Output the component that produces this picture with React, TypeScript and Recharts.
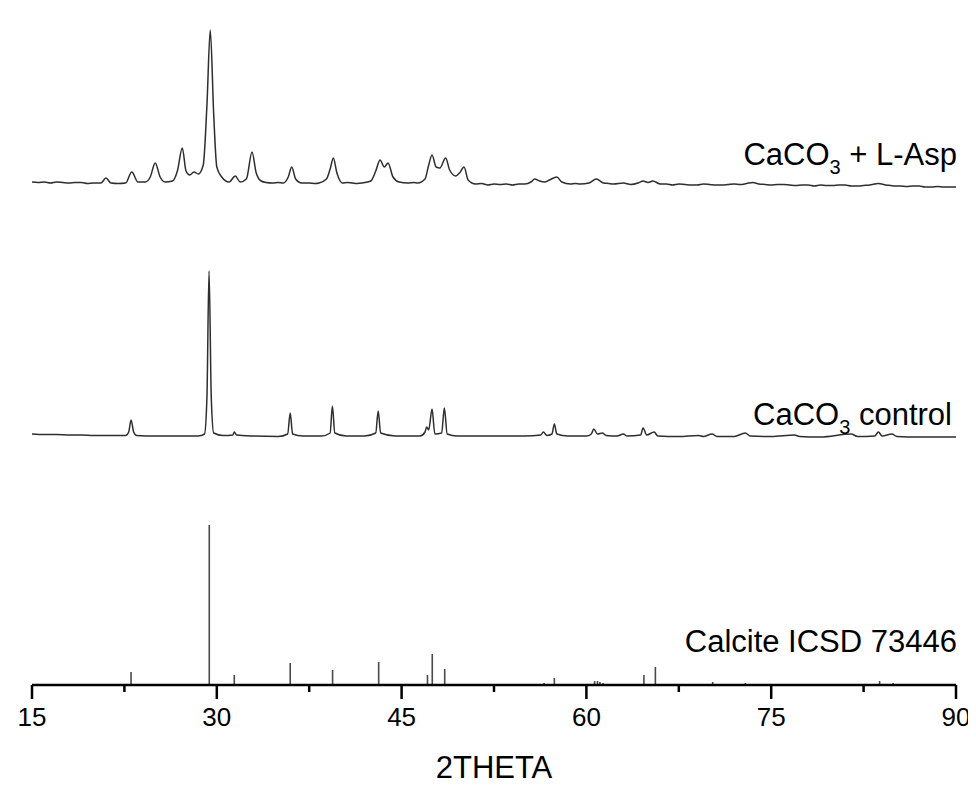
import React from 'react';
import { ComposedChart, Line, Bar, XAxis, YAxis } from 'recharts';

// 2-theta tick values (major labelled, minor unlabelled)
const X_TICKS = [15, 22.5, 30, 37.5, 45, 52.5, 60, 67.5, 75, 82.5, 90];
const MAJOR_TICKS = [15, 30, 45, 60, 75, 90];

// Series names
const SERIES_ASP = 'CaCO3 + L-Asp';
const SERIES_CONTROL = 'CaCO3 control';
const SERIES_CALCITE = 'Calcite ICSD 73446';

// Vertical stacking offsets (a.u.) used to separate the patterns
const ASP_OFFSET = 500;
const CONTROL_OFFSET = 248;

// CaCO3 + L-Asp pattern: [2theta, intensity a.u.]
const aspPattern: [number, number][] = [
  [15.0, 3], [15.5, 2.5], [16.0, 3], [16.5, 2], [17.0, 3], [17.5, 2.5], [18.0, 2], [18.5, 2.5], [19.0, 2.5],
  [19.5, 1.5], [20.0, 2], [20.6, 2], [21.0, 7], [21.4, 2], [22.0, 1.5], [22.6, 2], [23.1, 13], [23.6, 3],
  [24.2, 3], [24.6, 8], [25.0, 22], [25.4, 8], [25.8, 3], [26.4, 4], [26.8, 14], [27.2, 37], [27.5, 14],
  [27.8, 10], [28.15, 13], [28.5, 11], [28.9, 20], [29.2, 80], [29.47, 155], [29.75, 70], [30.0, 18],
  [30.4, 8], [31.0, 3], [31.5, 9], [31.9, 3], [32.4, 6], [32.86, 33], [33.2, 12], [33.6, 4], [34.0, 2.5],
  [34.5, 2], [35.0, 2.5], [35.4, 2], [35.8, 8], [36.08, 18], [36.4, 6], [36.9, 2], [37.5, 2], [38.0, 1.5],
  [38.3, 2], [38.9, 6], [39.2, 16], [39.46, 27], [39.75, 12], [40.2, 2], [40.6, 2.5], [41.0, 2], [41.4, 1.5],
  [41.8, 2], [42.5, 4], [42.9, 14], [43.25, 25], [43.6, 18], [43.9, 22], [44.3, 8], [44.8, 3], [45.5, 2],
  [46.0, 2.5], [46.3, 2], [46.9, 6], [47.2, 20], [47.47, 30], [47.8, 18], [48.1, 17], [48.58, 27], [48.9, 15],
  [49.4, 9], [49.7, 12], [50.07, 18], [50.4, 5], [51.0, 1], [51.5, 1.5], [52.0, 0], [52.5, 1], [53.0, 0.5],
  [53.5, 1], [54.0, 0], [54.5, 1], [55.0, 1], [55.5, 3], [55.8, 6], [56.2, 4], [56.6, 3], [57.0, 5],
  [57.6, 8], [58.0, 3], [58.7, 1], [59.1, 1.5], [59.5, 1], [60.2, 2], [60.8, 6], [61.4, 2], [61.8, 1.5],
  [62.2, 1], [63.0, 2], [63.6, 0.5], [64.2, 2], [64.6, 4], [65.0, 2.5], [65.4, 4], [66.0, 1], [66.5, 1],
  [67.0, 0], [67.5, 1], [68.0, 0.5], [68.5, 0], [69.0, 0], [69.5, 1], [70.0, 0.5], [70.5, 0], [71.0, 0],
  [71.5, 0.5], [72.0, 1], [72.5, 0.5], [73.0, 1.5], [73.5, 2.5], [74.0, 1], [74.5, 0.5], [75.0, 0],
  [75.5, 0.5], [76.0, 0.5], [76.5, 0], [77.0, -0.5], [77.5, 0], [78.0, 0], [78.5, -1], [79.0, 0], [79.5, -0.5],
  [80.0, -0.5], [80.5, 0], [81.0, 0], [81.5, -1], [82.0, -1], [82.5, -0.5], [83.0, 0], [83.7, 1.5], [84.3, 0],
  [84.7, -0.5], [85.0, -1], [85.5, -1], [86.0, -1.5], [86.5, -1], [87.0, -1], [87.5, -2], [88.0, -2],
  [88.5, -1.5], [89.0, -2], [89.5, -2], [90.0, -2],
];

// CaCO3 control pattern: [2theta, intensity a.u.]
const controlPattern: [number, number][] = [
  [15.0, 3], [16.0, 2.5], [17.0, 2.5], [18.0, 2], [19.0, 2], [20.0, 1.5], [21.0, 1.5], [22.0, 1.5], [22.6, 1.5],
  [22.85, 5], [23.04, 17], [23.25, 5], [23.5, 1.5], [25.0, 1], [27.0, 1], [28.5, 1], [29.0, 3], [29.2, 40],
  [29.37, 166], [29.55, 40], [29.75, 4], [30.5, 1.5], [31.3, 2], [31.42, 5], [31.6, 2], [33.0, 1], [35.0, 0.5],
  [35.75, 3], [35.96, 24], [36.15, 3], [37.0, 1], [38.5, 1], [39.2, 4], [39.38, 31], [39.58, 4], [40.5, 1],
  [42.0, 1], [42.9, 4], [43.1, 26], [43.3, 4], [44.5, 1], [46.5, 1], [46.9, 5], [47.04, 10], [47.2, 7],
  [47.47, 28], [47.7, 3], [48.25, 4], [48.47, 29], [48.7, 3], [49.5, 1], [52.0, 1], [55.0, 1], [56.3, 2],
  [56.5, 5], [56.8, 1.5], [57.2, 3], [57.4, 13], [57.6, 3], [58.5, 1], [60.0, 1], [60.4, 3], [60.6, 8],
  [60.9, 3], [61.3, 4], [61.6, 1.5], [62.5, 1], [63.0, 3], [63.3, 1], [64.4, 2], [64.6, 9], [64.9, 2],
  [65.5, 5], [65.8, 1], [67.5, 0.5], [69.1, 1.5], [69.5, 0.5], [70.2, 3], [70.6, 0.5], [72.0, 0.5], [72.9, 4],
  [73.3, 1], [75.0, 0.5], [76.9, 2], [77.3, 0.5], [79.0, 0], [81.5, 3], [82.0, 0.5], [83.4, 1], [83.7, 5],
  [84.0, 1], [84.8, 3], [85.2, 0.5], [87.0, 0], [90.0, 0],
];

// Calcite reference (ICSD 73446) stick positions and intensities
const calcitePositions = [
  23.04, 29.39, 31.42, 35.96, 39.4, 43.14, 47.1, 47.49, 48.5, 56.57, 57.4, 58.0, 60.67, 60.9, 61.1, 61.35,
  63.05, 64.67, 65.6, 69.2, 70.25, 72.9, 77.0, 81.5, 83.8, 84.9,
];
const calciteIntensities = [
  13, 160, 10, 22, 15, 23, 10, 31, 16, 2, 7, 1, 4, 4, 3, 2, 1, 10, 18, 1, 3, 2, 1, 1, 4, 2,
];

const aspData = aspPattern.map(([x, y]) => ({ x, y: y + ASP_OFFSET }));
const controlData = controlPattern.map(([x, y]) => ({ x, y: y + CONTROL_OFFSET }));
const calciteData = calcitePositions.map((x, i) => ({ x, h: calciteIntensities[i] }));

const FONT = '"Liberation Sans", Arial, Helvetica, sans-serif';
const TICK_SIZE = 14;
const TICK_MARGIN = 9;

function AxisTick(props: any) {
  const { x, y, payload } = props;
  const v = payload.value;
  const major = MAJOR_TICKS.includes(v);
  const axisY = y - TICK_SIZE - TICK_MARGIN;
  return (
    <g>
      <line x1={x} x2={x} y1={axisY} y2={axisY + (major ? TICK_SIZE : 7)} stroke="#000" strokeWidth={2.5} />
      {major && (
        <text x={x} y={y} dy="0.71em" textAnchor="middle" fontSize={26} fill="#000" fontFamily={FONT}>
          {v}
        </text>
      )}
    </g>
  );
}

function Stick(props: any) {
  const { x, y, width, height } = props;
  if (x == null || y == null) return null;
  const cx = x + (width || 0) / 2;
  return <line x1={cx} x2={cx} y1={y} y2={y + height} stroke="#4a4a4a" strokeWidth={1.6} />;
}

const labelStyle: React.CSSProperties = {
  position: 'absolute',
  right: 19,
  fontSize: 31,
  lineHeight: '31px',
  fontFamily: FONT,
  color: '#000',
  whiteSpace: 'nowrap',
};
const subStyle: React.CSSProperties = { fontSize: 20, position: 'relative', top: 9 };

export default function App() {
  return (
    <div style={{ position: 'relative', width: 968, height: 786, fontFamily: FONT }}>
      <ComposedChart
        width={968}
        height={786}
        data={calciteData}
        margin={{ top: 12, right: 20, left: 24, bottom: 9 }}
      >
        <XAxis
          type="number"
          dataKey="x"
          domain={[15, 90]}
          ticks={X_TICKS}
          interval={0}
          allowDataOverflow
          height={100}
          tickSize={TICK_SIZE}
          tickMargin={TICK_MARGIN}
          tickLine={false}
          tick={<AxisTick />}
          axisLine={{ stroke: '#000', strokeWidth: 2.5 }}
          label={{ value: '2THETA', position: 'insideBottom', offset: 7, fontSize: 31, fill: '#000', fontFamily: FONT }}
        />
        <YAxis hide type="number" domain={[0, 665]} allowDataOverflow />
        <Bar dataKey="h" name={SERIES_CALCITE} barSize={2} fill="#4a4a4a" shape={<Stick />} isAnimationActive={false} />
        <Line
          data={controlData}
          dataKey="y"
          name={SERIES_CONTROL}
          type="monotone"
          stroke="#2e2e2e"
          strokeWidth={1.5}
          dot={false}
          isAnimationActive={false}
        />
        <Line
          data={aspData}
          dataKey="y"
          name={SERIES_ASP}
          type="monotone"
          stroke="#2e2e2e"
          strokeWidth={1.5}
          dot={false}
          isAnimationActive={false}
        />
      </ComposedChart>
      <div style={{ ...labelStyle, top: 131 }}>
        CaCO<span style={subStyle}>3</span> + L-Asp
      </div>
      <div style={{ ...labelStyle, top: 391, right: 24 }}>
        CaCO<span style={subStyle}>3</span> control
      </div>
      <div style={{ ...labelStyle, top: 618 }}>Calcite ICSD 73446</div>
    </div>
  );
}
